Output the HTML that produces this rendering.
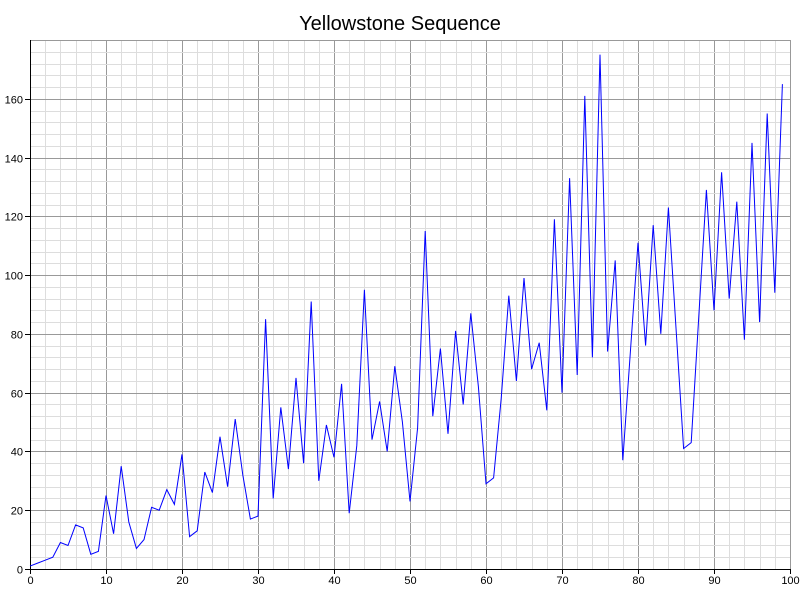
<!DOCTYPE html>
<html><head><meta charset="utf-8"><style>
body{margin:0;background:#fff;font-family:"Liberation Sans",sans-serif}
</style></head><body>
<svg id="chart" width="800" height="600">
<text x="400" y="30" text-anchor="middle" font-size="20">Yellowstone Sequence</text>
<g id="grid"></g><g id="axes"></g>
<polyline id="line" fill="none" stroke="#0000ff" stroke-width="1"/>
</svg>
<script>
const values=[1,2,3,4,9,8,15,14,5,6,25,12,35,16,7,10,21,20,27,22,39,11,13,33,26,45,28,51,32,17,18,85,24,55,34,65,36,91,30,49,38,63,19,42,95,44,57,40,69,50,23,48,115,52,75,46,81,56,87,62,29,31,58,93,64,99,68,77,54,119,60,133,66,161,72,175,74,105,37,74,111,76,117,80,123,82,41,43,86,129,88,135,92,125,78,145,84,155,94,165];
const xTicks=[0,10,20,30,40,50,60,70,80,90,100];
const yTicks=[0,20,40,60,80,100,120,140,160];
const X0=30,X1=790,Y0=569,YT=40,XMAX=100,YMAX=180;
const sx=v=>X0+v*(X1-X0)/XMAX, sy=v=>Y0-v*(Y0-YT)/YMAX;
const NS="http://www.w3.org/2000/svg";
const grid=document.getElementById('grid'),axes=document.getElementById('axes');
function ln(p,x1,y1,x2,y2,c,n){const l=document.createElementNS(NS,'line');
l.setAttribute('x1',x1);l.setAttribute('y1',y1);l.setAttribute('x2',x2);l.setAttribute('y2',y2);l.setAttribute('stroke',c);l.setAttribute('stroke-width',1);


p.appendChild(l);}
function tx(x,y,s,a,n){const t=document.createElementNS(NS,'text');t.setAttribute('x',x);t.setAttribute('y',y);t.setAttribute('text-anchor',a);t.setAttribute('font-size',11);t.textContent=s;


axes.appendChild(t);}
for(let v=0;v<=XMAX;v+=2){const x=Math.round(sx(v))+.5;ln(grid,x,YT,x,Y0,v%10?'#ddd':'#999','x-grid-line');}
for(let v=0;v<=YMAX;v+=4){const y=Math.round(sy(v))+.5;ln(grid,X0,y,X1,y,v%20?'#ddd':'#999','y-grid-line');}
ln(axes,X0+.5,YT,X0+.5,Y0,'#000','y-axis');ln(axes,X0,Y0+.5,X1,Y0+.5,'#000','x-axis');
xTicks.forEach(v=>{const x=Math.round(sx(v))+.5;ln(axes,x,Y0,x,Y0+5,'#000','x-tick');tx(x,Y0+15,v,'middle','x-tick-label');});
yTicks.forEach(v=>{const y=Math.round(sy(v))+.5;ln(axes,X0-5,y,X0,y,'#000','y-tick');tx(X0-7,y+4,v,'end','y-tick-label');});
document.getElementById('line').setAttribute('points',values.map((v,i)=>sx(i)+','+sy(v)).join(' '));
</script>
</body></html>
